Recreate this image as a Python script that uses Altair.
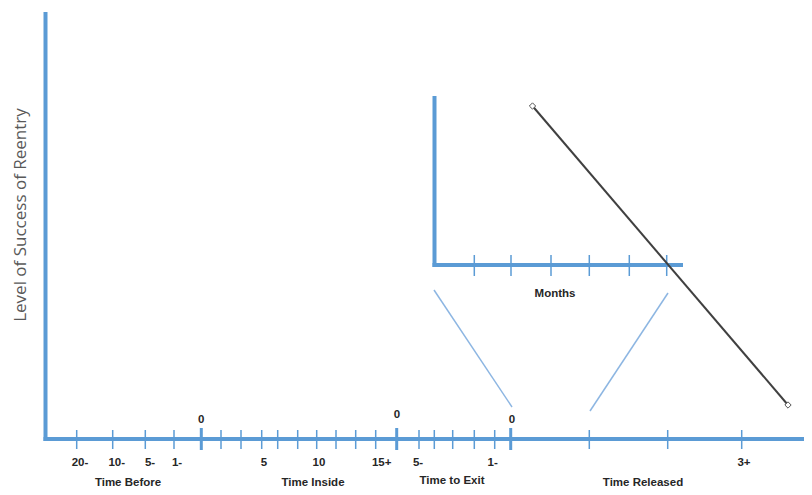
import altair as alt
import pandas as pd

BLUE = "#5b9bd5"
LIGHT = "#8db6e2"
DARK = "#404040"

# Main time axis ticks (diagram positions)
minor_ticks = [76.7, 112.7, 145.3, 174, 221, 241, 261.7, 277.7, 297.7, 316.7, 336, 355.7, 375.7,
               419, 434.3, 452.7, 474.3, 494.7, 589.3, 667.7, 741.7]
major_ticks = [201.3, 396.7, 510.7]

# Tick labels below the axis
tick_labels = ["20-", "10-", "5-", "1-", "5", "10", "15+", "5-", "1-", "3+"]
tick_label_x = [80, 116.7, 150, 177, 264, 319, 381.7, 418, 492.7, 744]

# Zero labels above the axis
zero_labels = ["0", "0", "0"]
zero_label_x = [201.3, 397, 512]
zero_label_y = [420, 415, 420]

# Section labels (baseline positions)
section_labels = ["Time Before", "Time Inside", "Time to Exit", "Time Released"]
section_x = [128, 313, 452, 643]
section_y = [486, 486, 484, 486]

# Inset (Months) axis ticks
inset_ticks = [474.3, 511, 551, 589.3, 629.3, 666.7]

# Decline line endpoints
line_x = [532.5, 788]
line_y = [106, 405]

# Zoom connector lines
conn_x = [434, 668]
conn_y = [290, 293]
conn_x2 = [512, 590]
conn_y2 = [407, 411]

AXIS_Y = 439
xs = alt.Scale(domain=[8, 804], nice=False, zero=False)
ys = alt.Scale(domain=[8, 487], reverse=True, nice=False, zero=False)


def seg(df, width, color):
    return alt.Chart(df).mark_rule(strokeWidth=width, color=color, strokeCap="butt").encode(
        x=alt.X("x:Q", scale=xs, axis=None),
        y=alt.Y("y:Q", scale=ys, axis=None),
        x2="x2:Q",
        y2="y2:Q",
    )


axes_df = pd.DataFrame({
    "x": [45.5, 43.5, 434.5, 432.5],
    "y": [12, AXIS_Y, 96, 265],
    "x2": [45.5, 812, 434.5, 683],
    "y2": [AXIS_Y + 2, AXIS_Y, 267, 265],
})
minor_df = pd.DataFrame({"x": minor_ticks, "y": [430] * len(minor_ticks),
                         "x2": minor_ticks, "y2": [449] * len(minor_ticks)})
major_df = pd.DataFrame({"x": major_ticks, "y": [428] * len(major_ticks),
                         "x2": major_ticks, "y2": [450] * len(major_ticks)})
inset_df = pd.DataFrame({"x": inset_ticks, "y": [255] * len(inset_ticks),
                         "x2": inset_ticks, "y2": [276] * len(inset_ticks)})
conn_df = pd.DataFrame({"x": conn_x, "y": conn_y, "x2": conn_x2, "y2": conn_y2})
decl_df = pd.DataFrame({"x": [line_x[0]], "y": [line_y[0]], "x2": [line_x[1]], "y2": [line_y[1]]})
pts_df = pd.DataFrame({"x": line_x, "y": line_y})

FONT = "Liberation Sans"


def texts(df, size=11.5, baseline="middle"):
    return alt.Chart(df).mark_text(font=FONT, fontSize=size, fontWeight="bold",
                                   color="#262626", baseline=baseline).encode(
        x=alt.X("x:Q", scale=xs, axis=None),
        y=alt.Y("y:Q", scale=ys, axis=None),
        text="t:N",
    )


tick_txt = texts(pd.DataFrame({"x": tick_label_x, "y": [463] * len(tick_labels), "t": tick_labels}))
zero_txt = texts(pd.DataFrame({"x": zero_label_x, "y": zero_label_y, "t": zero_labels}))
sec_txt = texts(pd.DataFrame({"x": section_x, "y": section_y, "t": section_labels}), baseline="alphabetic")
months_txt = texts(pd.DataFrame({"x": [555], "y": [294], "t": ["Months"]}))
ytitle = alt.Chart(pd.DataFrame({"x": [21], "y": [215], "t": ["Level of Success of Reentry"]})).mark_text(
    font="Open Sans", fontSize=17, color="#595959", angle=270).encode(
    x=alt.X("x:Q", scale=xs, axis=None),
    y=alt.Y("y:Q", scale=ys, axis=None),
    text="t:N",
)

points = alt.Chart(pts_df).mark_point(shape="diamond", filled=True, fill="white", stroke="#555555",
                                      strokeWidth=1, size=40, opacity=1).encode(
    x=alt.X("x:Q", scale=xs, axis=None),
    y=alt.Y("y:Q", scale=ys, axis=None),
)

chart = alt.layer(
    seg(conn_df, 1.5, LIGHT),
    seg(axes_df, 4, BLUE),
    seg(minor_df, 1.5, BLUE),
    seg(major_df, 3, BLUE),
    seg(inset_df, 1.5, BLUE),
    seg(decl_df, 2, DARK),
    points,
    tick_txt, zero_txt, sec_txt, months_txt, ytitle,
).properties(
    width=796, height=479, padding=0, autosize=alt.AutoSizeParams(type="none")
).configure_view(stroke=None)

chart.save("out.html", embed_options={"renderer": "svg", "actions": False})
